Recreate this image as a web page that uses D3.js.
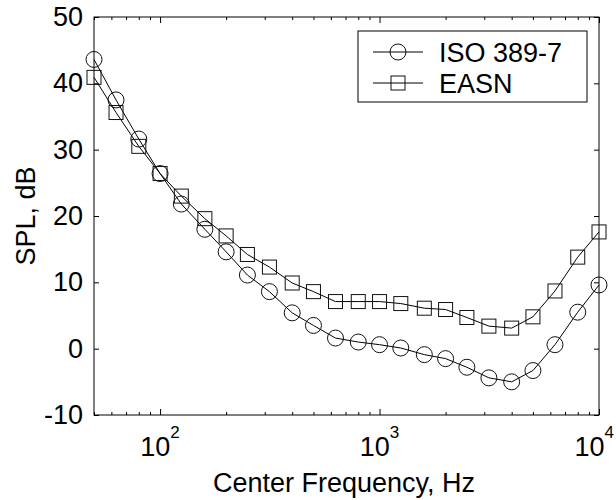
<!DOCTYPE html>
<html lang="en">
<head>
<meta charset="UTF-8">
<title>SPL vs Center Frequency</title>
<style>
  body { margin: 0; background: #fff; }
  svg { display: block; font-family: Arial, "Liberation Sans", sans-serif; }
  .axis path { display: none; }
  .axis line { stroke: #000; stroke-width: 1; }
</style>
</head>
<body>
<svg id="chart" width="616" height="500"></svg>
<script src="https://cdn.jsdelivr.net/npm/d3@7"></script>
<script>
// one-third octave centre frequencies, Hz
const freqs = [50, 63, 80, 100, 125, 160, 200, 250, 315, 400, 500, 630, 800,
  1000, 1250, 1600, 2000, 2500, 3150, 4000, 5000, 6300, 8000, 10000];
const iso389 = [43.6, 37.5, 31.6, 26.4, 21.8, 18.0, 14.6, 11.1, 8.6, 5.4, 3.5, 1.6, 1.0,
  0.6, 0.1, -0.9, -1.5, -2.8, -4.4, -5.0, -3.3, 0.6, 5.5, 9.6];
const easn = [40.9, 35.6, 30.5, 26.4, 23.0, 19.6, 17.0, 14.2, 12.3, 9.9, 8.6, 7.1, 7.1,
  7.1, 6.8, 6.1, 5.9, 4.7, 3.4, 3.1, 4.8, 8.7, 13.8, 17.6];
const yTicks = [-10, 0, 10, 20, 30, 40, 50];
const xMajor = [100, 1000, 10000];
const xExp = ["2", "3", "4"];
const seriesNames = ["ISO 389-7", "EASN"];

const FS = 27;
const W = 616;
const svg = d3.select("#chart");
const L = 94, R = 599, T = 17, B = 415;

const x = d3.scaleLog().domain([50, 10000]).range([L, R]);
const y = d3.scaleLinear().domain([-10, 50]).range([B, T]);

// minor ticks of the log axis (everything that is not a power of ten)
const xMinor = [];
for (let d = 10; d <= 1000; d *= 10) {
  for (let k = 2; k <= 9; k++) {
    const v = k * d;
    if (v >= 50 && v <= 10000) xMinor.push(v);
  }
}

// ticks, all pointing inwards like the original
svg.append("g").attr("class", "axis").attr("transform", `translate(0,${B})`)
  .call(d3.axisBottom(x).tickValues(xMinor).tickSize(-3).tickFormat(""));
svg.append("g").attr("class", "axis").attr("transform", `translate(0,${B})`)
  .call(d3.axisBottom(x).tickValues(xMajor).tickSize(-6).tickFormat(""));
svg.append("g").attr("class", "axis").attr("transform", `translate(0,${T})`)
  .call(d3.axisTop(x).tickValues(xMinor).tickSize(-3).tickFormat(""));
svg.append("g").attr("class", "axis").attr("transform", `translate(0,${T})`)
  .call(d3.axisTop(x).tickValues(xMajor).tickSize(-6).tickFormat(""));

const yLeft = svg.append("g").attr("class", "axis").attr("transform", `translate(${L},0)`)
  .call(d3.axisLeft(y).tickValues(yTicks).tickSize(-5).tickPadding(11)
    .tickFormat(d => String(d)));
yLeft.selectAll("text").attr("font-size", FS).attr("fill", "#000")
  .attr("font-family", 'Arial, "Liberation Sans", sans-serif');
svg.append("g").attr("class", "axis").attr("transform", `translate(${R},0)`)
  .call(d3.axisRight(y).tickValues(yTicks).tickSize(-5).tickFormat(""));

// frame
svg.append("rect")
  .attr("x", L).attr("y", T).attr("width", R - L).attr("height", B - T)
  .attr("fill", "none").attr("stroke", "#000").attr("stroke-width", 1);

// x tick labels as 10 with superscript exponent
xMajor.forEach((v, i) => {
  const t = svg.append("text")
    .attr("y", 456).attr("font-size", FS).attr("fill", "#000");
  t.append("tspan").text("10");
  t.append("tspan").attr("dy", -18).attr("font-size", 17).text(xExp[i]);
  // centre on the tick, but keep the last one inside the window
  const w = t.node().getComputedTextLength();
  t.attr("x", Math.min(x(v) - w / 2, W - 2 - w));
});

// axis titles
svg.append("text")
  .attr("x", 344).attr("y", 492)
  .attr("text-anchor", "middle").attr("font-size", FS).attr("fill", "#000")
  .text("Center Frequency, Hz");
svg.append("text")
  .attr("transform", `translate(35,${(T + B) / 2}) rotate(-90)`)
  .attr("text-anchor", "middle").attr("font-size", FS).attr("fill", "#000")
  .text("SPL, dB");

const line = d3.line().x(d => x(d[0])).y(d => y(d[1]));
const isoPts = freqs.map((f, i) => [f, iso389[i]]);
const easnPts = freqs.map((f, i) => [f, easn[i]]);

const plot = svg.append("g");
plot.append("path").datum(isoPts).attr("d", line)
  .attr("fill", "none").attr("stroke", "#000").attr("stroke-width", 1);
plot.append("path").datum(easnPts).attr("d", line)
  .attr("fill", "none").attr("stroke", "#000").attr("stroke-width", 1);

plot.selectAll("circle.iso").data(isoPts).enter().append("circle")
  .attr("class", "iso")
  .attr("cx", d => x(d[0])).attr("cy", d => y(d[1])).attr("r", 8)
  .attr("fill", "none").attr("stroke", "#111").attr("stroke-width", 1);
plot.selectAll("rect.easn").data(easnPts).enter().append("rect")
  .attr("class", "easn")
  .attr("x", d => x(d[0]) - 7).attr("y", d => y(d[1]) - 7)
  .attr("width", 14).attr("height", 14)
  .attr("fill", "none").attr("stroke", "#111").attr("stroke-width", 1);

// legend
const lg = svg.append("g");
lg.append("rect").attr("x", 358).attr("y", 31).attr("width", 229).attr("height", 71)
  .attr("fill", "#fff").attr("stroke", "#000").attr("stroke-width", 1);
const rowsY = [52, 83];
seriesNames.forEach((name, i) => {
  lg.append("line").attr("x1", 373).attr("x2", 423)
    .attr("y1", rowsY[i]).attr("y2", rowsY[i])
    .attr("stroke", "#000").attr("stroke-width", 1);
  if (i === 0) {
    lg.append("circle").attr("cx", 398).attr("cy", rowsY[i]).attr("r", 8)
      .attr("fill", "none").attr("stroke", "#111");
  } else {
    lg.append("rect").attr("x", 391).attr("y", rowsY[i] - 7)
      .attr("width", 14).attr("height", 14)
      .attr("fill", "none").attr("stroke", "#111");
  }
  lg.append("text").attr("x", 439).attr("y", rowsY[i] + 10)
    .attr("font-size", FS).attr("fill", "#000").text(name);
});
</script>
</body>
</html>
